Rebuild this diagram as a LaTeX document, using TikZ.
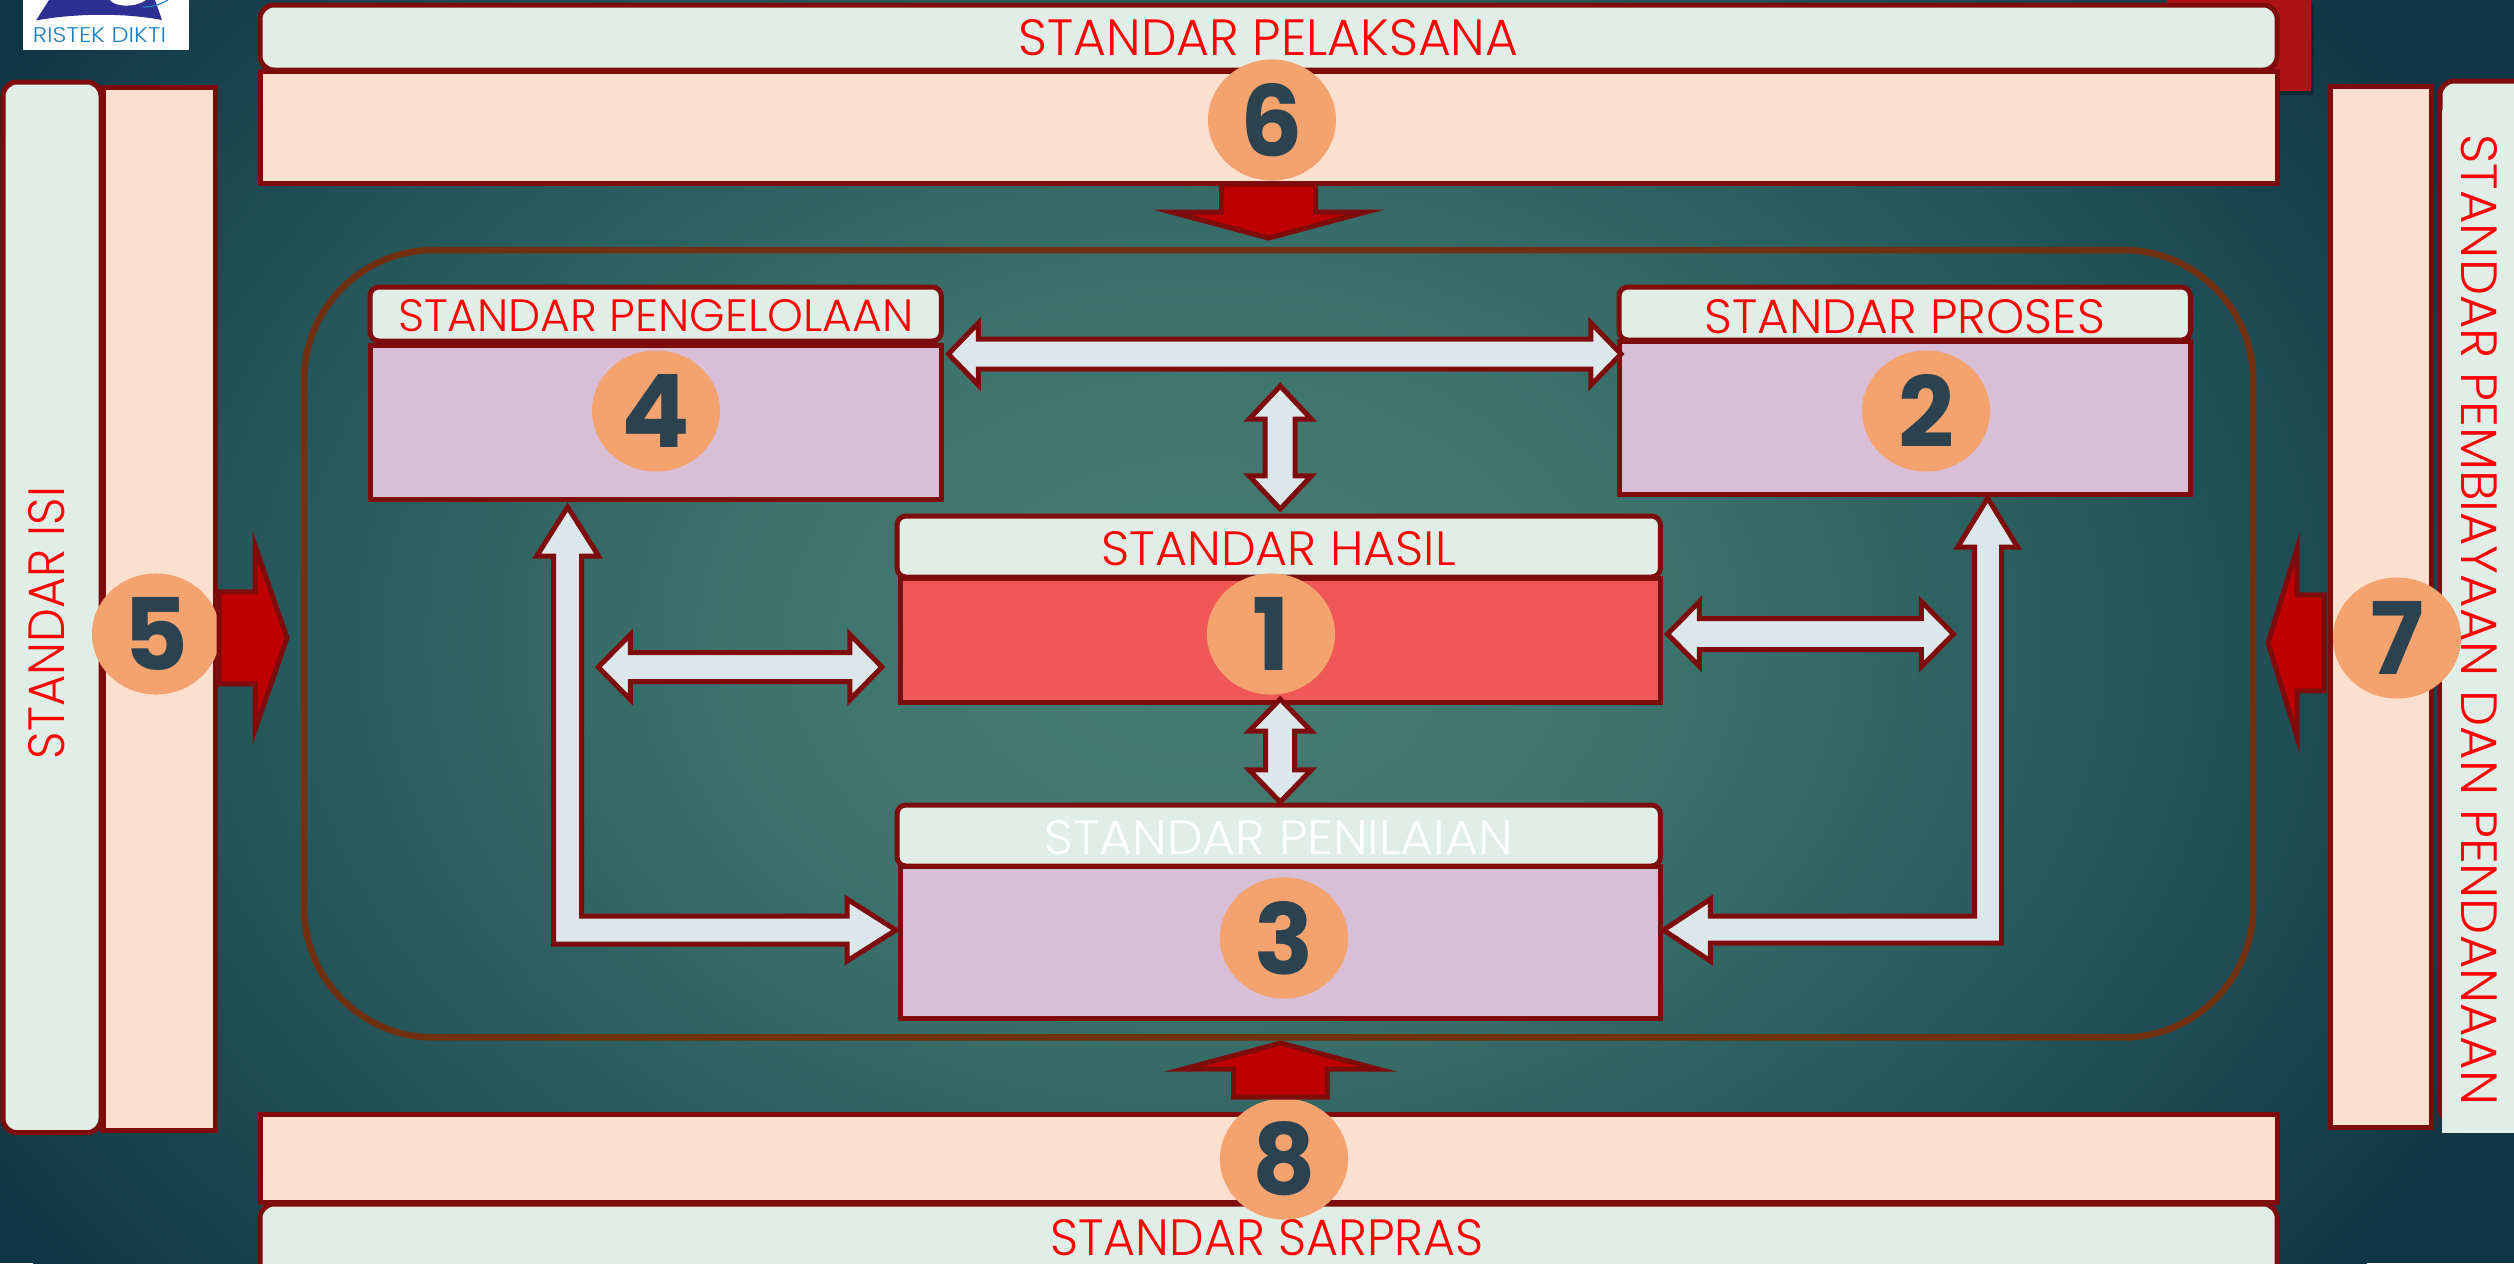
\documentclass[tikz,border=0pt]{standalone}
\usepackage{fontspec}
\usepackage{graphicx}
\usetikzlibrary{calc,shapes.geometric}
\newfontfamily\gothic{Poppins Light}
\newfontfamily\numf{Poppins}
\definecolor{bgA}{HTML}{447E73}
\definecolor{bgB}{HTML}{3E746E}
\definecolor{bgC}{HTML}{285C5E}
\definecolor{bgD}{HTML}{103546}
\definecolor{edgeRed}{HTML}{7F0C0C}
\definecolor{paleBox}{HTML}{E1EEE8}
\definecolor{peachBox}{HTML}{FBE0CF}
\definecolor{lilacBox}{HTML}{D8BED6}
\definecolor{hotBox}{HTML}{F05757}
\definecolor{discFill}{HTML}{F4A36F}
\definecolor{digitCol}{HTML}{2B4350}
\definecolor{blockFill}{HTML}{DCE7EC}
\definecolor{redFill}{HTML}{BE0000}
\definecolor{ringCol}{HTML}{713110}
\definecolor{cornerRed}{HTML}{AD1313}
\definecolor{logoNavy}{HTML}{2E2F92}
\definecolor{logoSky}{HTML}{1C82C4}
\pgfdeclareradialshading{bgsh}{\pgfpoint{0bp}{0bp}}{color(0bp)=(bgA); color(7.5bp)=(bgB); color(15bp)=(bgC); color(25bp)=(bgD); color(50bp)=(bgD)}
\tikzset{
  boxbase/.style={draw=edgeRed,line width=0.05cm,inner sep=0pt,outer sep=0pt,anchor=north west},
  titlebox/.style={boxbase,fill=paleBox,rounded corners=0.09cm},
  bandbox/.style={boxbase,fill=paleBox,rounded corners=0.14cm},
  peachbox/.style={boxbase,fill=peachBox},
  lilacbox/.style={boxbase,fill=lilacBox},
  hotbox/.style={boxbase,fill=hotBox},
  disc/.style={ellipse,fill=discFill,inner sep=0pt,outer sep=0pt,minimum width=1.28cm,minimum height=1.21cm,text=digitCol},
  blockarrow/.style={draw=edgeRed,fill=blockFill,line width=0.05cm,miter limit=10},
  redarrow/.style={draw=edgeRed,fill=redFill,line width=0.05cm,miter limit=10},
  label/.style={inner sep=0pt,outer sep=0pt,text=red}
}
\newcommand{\txt}[3]{\resizebox{#1cm}{#2cm}{\gothic #3}}
\newcommand{\dig}[1]{\resizebox{!}{0.73cm}{\numf\bfseries #1}}
% style, tail, tip, head length, half head, half shaft
\newcommand{\onearrow}[6]{%
  \coordinate (H) at ($(#3)!#4!(#2)$);
  \draw[#1] ($(#2)!#6!90:(#3)$) -- ($(H)!#6!90:(#3)$) -- ($(H)!#5!90:(#3)$) -- (#3)
    -- ($(H)!#5!-90:(#3)$) -- ($(H)!#6!-90:(#3)$) -- ($(#2)!#6!-90:(#3)$) -- cycle;}
% style, tip A, tip B, head length, half head, half shaft
\newcommand{\twoarrow}[6]{%
  \coordinate (HA) at ($(#2)!#4!(#3)$);
  \coordinate (HB) at ($(#3)!#4!(#2)$);
  \draw[#1] (#2) -- ($(HA)!#5!90:(#3)$) -- ($(HA)!#6!90:(#3)$) -- ($(HB)!#6!90:(#3)$) -- ($(HB)!#5!90:(#3)$)
    -- (#3) -- ($(HB)!#5!-90:(#3)$) -- ($(HB)!#6!-90:(#3)$) -- ($(HA)!#6!-90:(#3)$) -- ($(HA)!#5!-90:(#3)$) -- cycle;}
\begin{document}
\begin{tikzpicture}[x=0.01cm,y=-0.01cm]
\useasboundingbox (0,0) rectangle (2514,1263);
\clip (0,0) rectangle (2514,1263);
\fill[bgD] (0,0) rectangle (2514,1263);
\shade[shading=bgsh] (1200,640) ellipse (1450 and 1050);
% logo
\fill[white] (23,0) rectangle (189,50);
\fill[logoNavy] (49,0) -- (36,20.5) .. controls (70,14) and (120,12) .. (162,20) -- (155,0) -- cycle;
\fill[white] (110,0) .. controls (115,7) and (135,8) .. (146,0) -- cycle;
\draw[logoSky,line width=0.012cm] (143,7) .. controls (155,7) and (163,3) .. (168,0);
\node (logotext) [inner sep=0pt,text=logoSky] at (99.5,35.5) {\resizebox{1.33cm}{0.15cm}{\gothic RISTEK DIKTI}};
% corner block
\fill[black,opacity=0.25] (2171,4) rectangle (2314,95);
\fill[cornerRed] (2167,0) rectangle (2311,91);
% top band
\node (band6) [bandbox,minimum width=20.16cm,minimum height=0.65cm] at (260,5) {\txt{4.99}{0.36}{\textcolor{red}{STANDAR PELAKSANA}}};
\node (peach6) [peachbox,minimum width=20.16cm,minimum height=1.12cm] at (260,71) {};
% bottom band
\node (band8) [bandbox,minimum width=20.16cm,minimum height=1.0cm] at (260,1204) {};
\node (peach8) [peachbox,minimum width=20.16cm,minimum height=0.88cm] at (260,1114) {};
\node (text8) [label] at (1267,1238) {\txt{4.33}{0.36}{STANDAR SARPRAS}};
% left band
\node (band5) [bandbox,minimum width=0.98cm,minimum height=10.50cm] at (3,82) {};
\node (peach5) [peachbox,minimum width=1.12cm,minimum height=10.43cm] at (103,87) {};
\node (text5) [label,rotate=90] at (47,623) {\txt{2.72}{0.36}{STANDAR ISI}};
% right band
\node (peach7) [peachbox,minimum width=1.01cm,minimum height=10.41cm] at (2330,86) {};
\node (band7) [bandbox,minimum width=1.0cm,minimum height=10.40cm] at (2440,81) {};
\fill[paleBox] (2442,110) rectangle (2514,1133);
% ring
\node (ring) [draw=ringCol,line width=0.065cm,rounded corners=1.3cm,inner sep=0pt,outer sep=0pt,anchor=north west,minimum width=19.48cm,minimum height=7.87cm] at (304,250) {};
% standards
\node (title4) [titlebox,minimum width=5.71cm,minimum height=0.54cm] at (370,287) {};
\node (label4) [label] at ([shift={(0,2)}]title4.center) {\txt{5.15}{0.32}{STANDAR PENGELOLAAN}};
\node (body4) [lilacbox,minimum width=5.71cm,minimum height=1.54cm] at (370,345) {};
\node (title2) [titlebox,minimum width=5.71cm,minimum height=0.53cm] at (1619,287) {};
\node (label2) [label] at ([shift={(0,3)}]title2.center) {\txt{4.00}{0.34}{STANDAR PROSES}};
\node (body2) [lilacbox,minimum width=5.71cm,minimum height=1.53cm] at (1619,341) {};
\node (title1) [titlebox,minimum width=7.63cm,minimum height=0.61cm] at (897,516) {};
\node (label1) [label] at ([shift={(0,2)}]title1.center) {\txt{3.54}{0.34}{STANDAR HASIL}};
\node (body1) [hotbox,minimum width=7.60cm,minimum height=1.24cm] at (900,578) {};
\node (title3) [titlebox,minimum width=7.63cm,minimum height=0.61cm] at (897,805) {};
\node (label3) [label,text=white] at ([shift={(0,2)}]title3.center) {\txt{4.68}{0.34}{STANDAR PENILAIAN}};
\node (body3) [lilacbox,minimum width=7.60cm,minimum height=1.52cm] at (900,866) {};
% connectors
\coordinate (a12t) at ([shift={(7,9)}]body4.north east);
\coordinate (a12b) at ([shift={(2,13)}]body2.north west);
\coordinate (v13t) at ([shift={(1.5,-7)}]title1.north);
\coordinate (v13u) at ([shift={(1.5,-130)}]title1.north);
\twoarrow{blockarrow}{a12t}{a12b}{0.30cm}{0.31cm}{0.15cm}
\twoarrow{blockarrow}{v13u}{v13t}{0.33cm}{0.31cm}{0.15cm}
\coordinate (vh1) at ([shift={(-1,-3)}]body1.south);
\coordinate (vh3) at ([shift={(-1,-3)}]title3.north);
\coordinate (vh1s) at (vh1 -| v13t);
\coordinate (vh3s) at (vh3 -| v13t);
\twoarrow{blockarrow}{vh1s}{vh3s}{0.32cm}{0.31cm}{0.145cm}
\coordinate (hl0) at ([shift={(-343,168)}]body4.south east);
\coordinate (hl3) at ([shift={(-18,27)}]body1.west);
\twoarrow{blockarrow}{hl0}{hl3}{0.32cm}{0.325cm}{0.145cm}
\coordinate (hr0) at ([shift={(7,-6)}]body1.east);
\coordinate (hr1) at ([shift={(293,-6)}]body1.east);
\twoarrow{blockarrow}{hr0}{hr1}{0.32cm}{0.325cm}{0.155cm}
% L arrows
\coordinate (tipL) at ([shift={(-88,8)}]body4.south);
\coordinate (tipLb) at ([shift={(-4,-12)}]body3.west);
\coordinate (cornL) at (tipL |- tipLb);
\draw[blockarrow] (tipL) -- ([shift={(31,49)}]tipL) -- ([shift={(14,49)}]tipL) -- ([shift={(14,-14)}]cornL)
  -- ([shift={(-49,-14)}]tipLb) -- ([shift={(-49,-31)}]tipLb) -- (tipLb) -- ([shift={(-49,31)}]tipLb)
  -- ([shift={(-49,14)}]tipLb) -- ([shift={(-14,14)}]cornL) -- ([shift={(-14,49)}]tipL) -- ([shift={(-31,49)}]tipL) -- cycle;
\coordinate (tipR) at ([shift={(83,4)}]body2.south);
\coordinate (tipRb) at ([shift={(3,-12)}]body3.east);
\coordinate (cornR) at (tipR |- tipRb);
\draw[blockarrow] (tipR) -- ([shift={(30,49)}]tipR) -- ([shift={(14,49)}]tipR) -- ([shift={(14,13)}]cornR)
  -- ([shift={(47,13)}]tipRb) -- ([shift={(47,31)}]tipRb) -- (tipRb) -- ([shift={(47,-31)}]tipRb)
  -- ([shift={(47,-14)}]tipRb) -- ([shift={(-13,-14)}]cornR) -- ([shift={(-13,49)}]tipR) -- ([shift={(-30,49)}]tipR) -- cycle;
% discs
\node (disc5) [disc] at (156,634) {\dig{5}};
\node (disc6) [disc] at (1272,120) {\dig{6}};
\node (disc7) [disc] at (2397,638) {\dig{7}};
\node (disc8) [disc] at (1284,1159) {\dig{8}};
\node (disc4) [disc] at (656,411) {\dig{4}};
\node (disc2) [disc] at (1926,411) {\dig{2}};
\node (disc1) [disc] at (1271,634) {\dig{1}};
\node (disc3) [disc] at (1284,938) {\dig{3}};
\node (text7) [label,rotate=-90] at (2479,620) {\txt{9.70}{0.36}{STANDAR PEMBIAYAAN DAN PENDANAAN}};
% red arrows
\coordinate (r5a) at ([shift={(4,29)}]peach5.east);
\coordinate (r5b) at ([shift={(72,29)}]peach5.east);
\onearrow{redarrow}{r5a}{r5b}{0.32cm}{0.92cm}{0.46cm}
\coordinate (r7a) at ([shift={(-6,36)}]peach7.west);
\coordinate (r7b) at ([shift={(-62,36)}]peach7.west);
\onearrow{redarrow}{r7a}{r7b}{0.29cm}{0.94cm}{0.48cm}
\coordinate (r6a) at ([shift={(0,1)}]peach6.south);
\coordinate (r6b) at ([shift={(0,55)}]peach6.south);
\onearrow{redarrow}{r6a}{r6b}{0.26cm}{0.97cm}{0.47cm}
\coordinate (r8a) at ([shift={(12,-17)}]peach8.north);
\coordinate (r8b) at ([shift={(12,-71)}]peach8.north);
\onearrow{redarrow}{r8a}{r8b}{0.26cm}{0.97cm}{0.47cm}
\end{tikzpicture}
\end{document}
